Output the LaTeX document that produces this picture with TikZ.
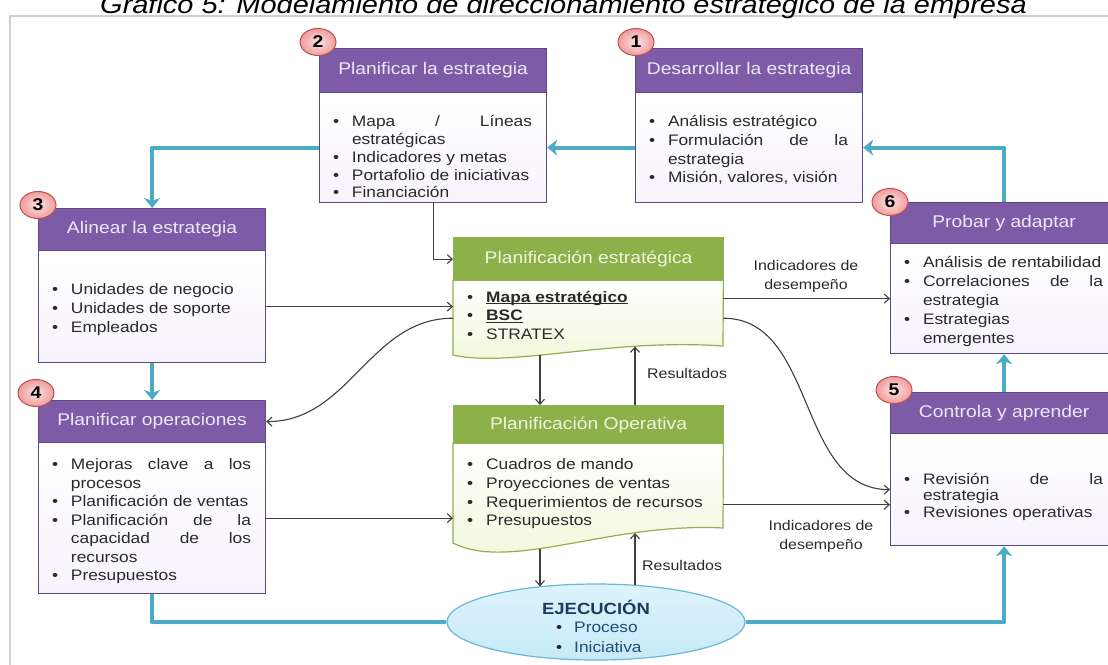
\documentclass[tikz,border=0pt]{standalone}
\usepackage{fontspec}
\setmainfont{Liberation Sans}[FakeStretch=1.14]
\usetikzlibrary{arrows.meta,shapes.geometric,calc}
\definecolor{hdrpurple}{HTML}{7E5BA7}
\definecolor{bordpurple}{HTML}{5E4A7E}
\definecolor{phdrtext}{HTML}{EEE7F8}
\definecolor{pbodyfill}{HTML}{F7F3FC}
\definecolor{hdrgreen}{HTML}{8DB04A}
\definecolor{bordgreen}{HTML}{8FB150}
\definecolor{ghdrtext}{HTML}{EFF6DE}
\definecolor{gbodyfill}{HTML}{F1F7D8}
\definecolor{flowblue}{HTML}{4BACC6}
\definecolor{txtdark}{HTML}{2A2A2A}
\definecolor{linegray}{HTML}{404040}
\definecolor{framegray}{HTML}{CFCFCF}
\definecolor{badgered}{HTML}{C0504D}
\definecolor{badgein}{HTML}{FDE3E3}
\definecolor{badgeout}{HTML}{EE9C9C}
\definecolor{ellfill}{HTML}{C6EAF8}
\definecolor{ellfilltop}{HTML}{DDF3FC}
\definecolor{elldraw}{HTML}{6DB6D6}
\definecolor{navy}{HTML}{1F3A60}
\definecolor{navyitem}{HTML}{1F4E79}
\newcommand\bul[1]{\par\leftskip=0pt\rightskip=0pt\parfillskip=0pt plus 1fil\noindent\hangindent=19pt\hangafter=1\hbox to 19pt{\textbullet\hfil}#1\par}
\newcommand\myul[1]{\setbox0=\hbox{#1}\rlap{\rule[-2.2pt]{\wd0}{1.1pt}}\box0}
\begin{document}
\begin{tikzpicture}[x=1pt,y=-1pt,
  phdr/.style={draw=bordpurple, fill=hdrpurple, line width=1.2pt, minimum width=227pt, inner sep=0pt, anchor=north west, text=phdrtext, font=\fontsize{16.9}{20}\selectfont},
  pbody/.style={draw=bordpurple, line width=1.2pt, top color=white, bottom color=pbodyfill, minimum width=227pt, inner sep=0pt, anchor=north west},
  ghdr/.style={draw=bordgreen, fill=hdrgreen, line width=1.2pt, minimum width=270pt, inner sep=0pt, anchor=north west, text=ghdrtext, font=\fontsize{16.9}{20}\selectfont},
  gbody/.style={minimum width=270pt, inner sep=0pt, anchor=north west},
  listtxt/.style={text width=199pt, align=justify, inner sep=0pt, text=txtdark, font=\fontsize{15.2}{18.7}\selectfont,
     execute at begin node={\hyphenpenalty=10000\exhyphenpenalty=10000\tolerance=10000\hbadness=10000\spaceskip=0pt\xspaceskip=0pt}},
  flow/.style={draw=flowblue, line width=4pt, line join=round, -{Stealth[length=10pt,width=16pt,inset=3pt]}},
  flowplain/.style={draw=flowblue, line width=4pt, line join=round},
  conn/.style={draw=linegray, line width=1.1pt, -{Straight Barb[length=5pt,width=9pt]}},
  badge/.style={ellipse, draw=badgered, line width=1pt, inner color=badgein, outer color=badgeout, minimum width=36pt, minimum height=27pt, inner sep=0pt, font=\bfseries\fontsize{17}{17}\selectfont},
  lbl/.style={text=txtdark, font=\fontsize{14}{19}\selectfont, align=center, inner sep=0pt}]
\useasboundingbox (0,0) rectangle (1108,664);
\clip (0,0) rectangle (1108,664);
\fill[white] (0,0) rectangle (1108,664);
% frame and title
\draw[framegray, line width=2.7pt] (10,670) -- (10,16) -- (1115,16);
\node[anchor=base, inner sep=0pt, font=\fontsize{25.4}{30}\selectfont\itshape] (title) at (563.5,13.5) {Gráfico 5: Modelamiento de direccionamiento estratégico de la empresa};

% purple boxes
\node[pbody, minimum height=110pt] (b1) at (635,92) {};
\node[phdr, minimum height=44pt] (b1h) at (635,48) {Desarrollar la estrategia};
\node[pbody, minimum height=110pt] (b2) at (319,92) {};
\node[phdr, minimum height=44pt] (b2h) at (319,48) {Planificar la estrategia};
\node[pbody, minimum height=112pt] (b3) at (38,250) {};
\node[phdr, minimum height=42pt] (b3h) at (38,208) {Alinear la estrategia};
\node[pbody, minimum height=151pt] (b4) at (38,442) {};
\node[phdr, minimum height=42pt] (b4h) at (38,400) {Planificar operaciones};
\node[pbody, minimum height=110pt] (b6) at (890,243) {};
\node[phdr, minimum height=41pt] (b6h) at (890,202) {Probar y adaptar};
\node[pbody, minimum height=112pt] (b5) at (890,433) {};
\node[phdr, minimum height=41pt] (b5h) at (890,392) {Controla y aprender};

% box texts
\node[listtxt] (t1) at (748.5,146.5) {\bul{Análisis estratégico}\bul{Formulación de la estrategia}\bul{Misión, valores, visión}};
\node[listtxt, font=\fontsize{15.2}{17.8}\selectfont] (t2) at (432.5,153.5) {\bul{Mapa / Líneas estratégicas}\bul{Indicadores y metas}\bul{Portafolio de iniciativas}\bul{Financiación}};
\node[listtxt, font=\fontsize{15.2}{19}\selectfont] (t3) at (151.5,306) {\bul{Unidades de negocio}\bul{Unidades de soporte}\bul{Empleados}};
\node[listtxt, font=\fontsize{15.2}{18.5}\selectfont] (t4) at (151.5,517.5) {\bul{Mejoras clave a los procesos}\bul{Planificación de ventas}\bul{Planificación de la\linebreak capacidad de los\linebreak recursos}\bul{Presupuestos}};
\node[listtxt, font=\fontsize{15.2}{19}\selectfont] (t6) at (1003.5,298) {\bul{Análisis de rentabilidad}\bul{Correlaciones de la estrategia}\bul{Estrategias emergentes}};
\node[listtxt, font=\fontsize{15.2}{16.5}\selectfont] (t5) at (1003.5,494) {\bul{Revisión de la estrategia}\bul{Revisiones operativas}};

% green document boxes
\node[gbody, minimum height=76pt] (pe) at (453,280) {};
\path[draw=bordgreen, line width=1.2pt, top color=white, bottom color=gbodyfill] (pe.north west) -- (453,355) .. controls (510,368) and (610,338) .. (723,346) -- (pe.north east) -- cycle;
\node[ghdr, minimum height=43pt] (peh) at (453,237) {Planificación estratégica};
\node[listtxt, text width=240pt, anchor=west, font=\fontsize{15.2}{18.5}\selectfont] (tpe) at (467,311.5) {\bul{\textbf{\myul{Mapa estratégico}}}\bul{\textbf{\myul{BSC}}}\bul{STRATEX}};
\coordinate (pew1) at (540,355);
\coordinate (pew2) at (635,346.5);

\node[gbody, minimum height=93pt] (po) at (453,443) {};
\path[draw=bordgreen, line width=1.2pt, top color=white, bottom color=gbodyfill] (po.north west) -- (453,543) .. controls (510,572) and (610,522) .. (723,528) -- (po.north east) -- cycle;
\node[ghdr, minimum height=38pt] (poh) at (453,405) {Planificación Operativa};
\node[listtxt, text width=250pt, anchor=west, font=\fontsize{15.2}{18.7}\selectfont] (tpo) at (467,490) {\bul{Cuadros de mando}\bul{Proyecciones de ventas}\bul{Requerimientos de recursos}\bul{Presupuestos}};
\coordinate (pow1) at (540,548.5);
\coordinate (pow2) at (635,533);

% execution ellipse
\node[ellipse, draw=elldraw, line width=1.2pt, top color=ellfilltop, bottom color=ellfill, minimum width=298pt, minimum height=76pt, inner sep=0pt] (ej) at (596,622) {};
\node[inner sep=0pt, text=navy, font=\bfseries\fontsize{16.2}{19}\selectfont] (ejt) at (596,607) {EJECUCIÓN};
\node[inner sep=0pt, anchor=west, align=left, text=navyitem, font=\fontsize{15.2}{20}\selectfont] (eji) at (556,637) {\hbox to 18pt{\color{txtdark}\textbullet\hfil}Proceso\\\hbox to 18pt{\color{txtdark}\textbullet\hfil}Iniciativa};

% blue flow arrows
\draw[flow] (b1.west) -- (b2.east);
\draw[flow] (b2.west) -| (b3h.north);
\draw[flow] (b3.south) -- (b4h.north);
\draw[flowplain] (b4.south) |- (ej.west);
\draw[flow] (ej.east) -| (b5.south);
\draw[flow] (b5h.north) -- (b6.south);
\draw[flow] (b6h.north) |- (b1.east);

% thin connectors
\draw[conn] (b2.south) |- (peh.west);
\draw[conn] (b3.east) -- (b3.east -| pe.west);
\draw[conn] (pe.west) to[out=180,in=0] (b4h.east);
\draw[conn] (pe.east |- b6.west) -- (b6.west);
\draw[conn] (pe.east) to[out=0,in=180] (b5.west);
\draw[conn] (b4.east) -- (b4.east -| po.west);
\coordinate (poind) at ($(po.east)+(0,15)$);
\draw[conn] (poind) -- (poind -| b5.west);
\draw[conn] (pew1) -- (pew1 |- poh.north);
\draw[conn] (pew2 |- poh.north) -- (pew2);
\draw[conn] (pow1) -- (pow1 |- ej.148);
\draw[conn] (pow2 |- ej.43) -- (pow2);

% labels
\node[lbl] (l1) at (806,276.5) {Indicadores de\\desempeño};
\node[lbl] (l2) at (821,536.5) {Indicadores de\\desempeño};
\node[lbl, anchor=west] (r1) at (647,373) {Resultados};
\node[lbl, anchor=west] (r2) at (642,565) {Resultados};

% badges
\node[badge] (n1) at (636,42) {1};
\node[badge] (n2) at (318,42) {2};
\node[badge] (n3) at (38,205) {3};
\node[badge] (n4) at (36,393) {4};
\node[badge] (n5) at (894,390) {5};
\node[badge] (n6) at (890,202) {6};
\end{tikzpicture}
\end{document}
